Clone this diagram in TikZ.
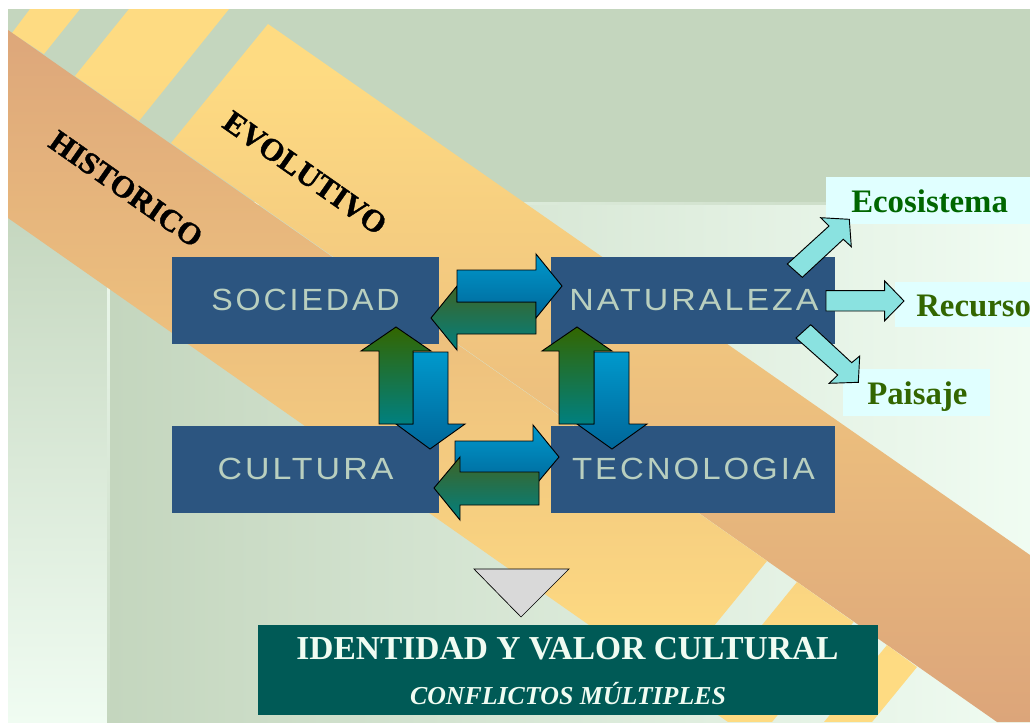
\documentclass[tikz,border=0pt]{standalone}
\usepackage{fontspec}
\setmainfont{Liberation Serif}
\newfontfamily\boxfont[LetterSpace=9]{Liberation Sans}
\newfontfamily\bandfont[BoldFeatures={FakeBold=1.2}]{Liberation Serif}
\definecolor{bgdark}{HTML}{C4D6BE}
\definecolor{bglight}{HTML}{F0FCF2}
\definecolor{ochre}{HTML}{FEDB82}
\definecolor{tan}{HTML}{DCA57A}
\definecolor{boxblue}{HTML}{2C5580}
\definecolor{boxtext}{HTML}{B9CFBF}
\definecolor{teal}{HTML}{005A56}
\definecolor{cyanbox}{HTML}{E0FFFF}
\definecolor{cyanarrow}{HTML}{8AE2E0}
\definecolor{bluetop}{HTML}{0099CC}
\definecolor{bluebot}{HTML}{006699}
\definecolor{greentop}{HTML}{336600}
\definecolor{greenbot}{HTML}{008080}
\definecolor{greenhtop}{HTML}{3F6425}
\definecolor{ecogreen}{HTML}{006600}
\tikzset{
  mainbox/.style={fill=boxblue,text=boxtext,inner sep=0pt,font=\boxfont\fontsize{23}{27}\selectfont},
  bluearrow/.style={draw=black,line width=0.7pt,top color=bluetop,bottom color=bluebot},
  greenarrow/.style={draw=black,line width=0.7pt,top color=greentop,bottom color=greenbot},
  greenharrow/.style={draw=black,line width=0.7pt,top color=greenhtop,bottom color=greenbot},
  cyanarr/.style={draw=black,line width=0.7pt,fill=cyanarrow},
  lab/.style={font=\bfseries\fontsize{24.6}{28}\selectfont,inner sep=0pt,anchor=base west},
  band/.style={text=black,inner sep=0pt,rotate=-35},
}
\begin{document}
\begin{tikzpicture}[x=0.75pt,y=-0.75pt]
\useasboundingbox (0,0) rectangle (1030,722);
% background
\fill[white] (0,0) rectangle (1030,722);
\fill[bgdark] (8,9) rectangle (1030,202);
\shade[top color=bgdark,bottom color=bglight] (8,202) rectangle (107,722);
\shade[left color=bglight,right color=bgdark] (107,202) rectangle (1030,205);
\shade[top color=bglight,bottom color=bgdark] (107,205) rectangle (110,722);
\shade[left color=bgdark,right color=bglight] (110,205) rectangle (1030,722);
% upper band with its stripes
\begin{scope}
\clip (12,33) -- (30,9) -- (80,9) -- (44,54) -- cycle
      (75,76) -- (129,9) -- (229,9) -- (139,121) -- cycle
      (171,143) -- (268,24) -- (1030,555) -- (1030,722) -- (997,722) -- cycle;
\shade[top color=ochre,bottom color=tan] (8,70) rectangle (1030,722);
\fill[ochre] (8,9) rectangle (1030,70);
\end{scope}
% lower band with its stripes
\begin{scope}
\clip (8,30) -- (767,561) -- (669,681) -- (8,218) -- cycle
      (797,582) -- (853.6,622) -- (772,722) -- (728,722) -- (699.5,702) -- cycle
      (887,645) -- (917,667) -- (872,722) -- (824,722) -- cycle;
\shade[top color=tan,bottom color=ochre] (8,9) rectangle (1030,660);
\fill[ochre] (8,660) rectangle (1030,722);
\end{scope}
% band labels
\node[band,font=\bandfont\bfseries\fontsize{23.3}{28}\selectfont] (hist) at (126,189) {HISTORICO};
\node[band,font=\bandfont\bfseries\fontsize{23.6}{28}\selectfont] (evol) at (305,173) {EVOLUTIVO};
% right labels
\fill[cyanbox] (826,177) rectangle (1030,224);
\fill[cyanbox] (895,282) rectangle (1030,327);
\fill[cyanbox] (843,369) rectangle (990,416);
\node[lab,text=ecogreen] (eco) at (851,212) {Ecosistema};
\node[lab,text=greentop] (rec) at (916,316) {Recurso};
\node[lab,text=greentop] (pai) at (867,404) {Paisaje};
% main boxes
\node[mainbox,minimum width=267*0.75pt,minimum height=87*0.75pt] (soc) at (305.5,300.5) {};
\node[mainbox,minimum width=267*0.75pt,minimum height=87*0.75pt] (cul) at (305.5,469.5) {};
\node[mainbox,minimum width=284*0.75pt,minimum height=87*0.75pt] (nat) at (693,300.5) {};
\node[mainbox,minimum width=284*0.75pt,minimum height=87*0.75pt] (tec) at (693,469.5) {};
\node[mainbox,fill=none,anchor=base] (soct) at (305.5,310) {\scalebox{1.05}[1]{SOCIEDAD}};
\node[mainbox,fill=none,anchor=base] (cult) at (305.5,479.5) {\scalebox{1.106}[1]{CULTURA}};
\node[mainbox,fill=none,anchor=base] (natt) at (694,310) {\scalebox{1.106}[1]{NATURALEZA}};
\node[mainbox,fill=none,anchor=base] (tect) at (693.5,479.5) {\scalebox{1.075}[1]{TECNOLOGIA}};
% top pair
\path[greenharrow] (431,318) -- (457,286) -- (457,302) -- (536,302) -- (536,334) -- (457,334) -- (457,350) -- cycle;
\path[bluearrow] (457,270) -- (536,270) -- (536,254) -- (562,286) -- (536,318) -- (536,302) -- (457,302) -- cycle;
% bottom pair
\path[bluearrow] (455,441) -- (533,441) -- (533,425) -- (559,457) -- (533,488) -- (533,473) -- (455,473) -- cycle;
\path[greenharrow] (434,488) -- (460,457) -- (460,472) -- (539,472) -- (539,505) -- (460,505) -- (460,520) -- cycle;
% left pair
\path[bluearrow] (413,352) -- (448,352) -- (448,424) -- (465,424) -- (430,449) -- (396,424) -- (413,424) -- cycle;
\path[greenarrow] (396,327) -- (431,351) -- (413,351) -- (413,424) -- (379,424) -- (379,351) -- (361,351) -- cycle;
% right pair
\path[bluearrow] (594,352) -- (629,352) -- (629,424) -- (647,424) -- (612,449) -- (577,424) -- (594,424) -- cycle;
\path[greenarrow] (577,327) -- (612,351) -- (594,351) -- (594,424) -- (559,424) -- (559,351) -- (542,351) -- cycle;
% cyan arrows
\path[cyanarr] (787.3,264) -- (802.3,277.3) -- (843.3,239.3) -- (851.3,246.7) -- (849.3,219.3) -- (820.7,217.7) -- (829,226) -- cycle;
\path[cyanarr] (826,290.7) -- (884.7,290.7) -- (884.7,281) -- (904,301) -- (884.7,320.7) -- (884.7,311) -- (826,311) -- cycle;
\path[cyanarr] (810.7,324.7) -- (851.7,362.7) -- (859.7,356) -- (858.3,382.3) -- (829.3,383.3) -- (837.7,375) -- (796,338) -- cycle;
% triangle
\path[draw=black,line width=0.5pt,fill=black!15] (474,569) -- (569,569) -- (521,617) -- cycle;
% bottom box
\node[fill=teal,minimum width=620*0.75pt,minimum height=90*0.75pt,inner sep=0pt] (idb) at (568,670) {};
\node[text=bglight,inner sep=0pt,anchor=base,font=\bfseries\fontsize{25.1}{28}\selectfont] (idt) at (567.5,659) {IDENTIDAD Y VALOR CULTURAL};
\node[text=bglight,inner sep=0pt,anchor=base,font=\bfseries\itshape\fontsize{19.4}{22}\selectfont] (con) at (568,704) {CONFLICTOS MÚLTIPLES};
\end{tikzpicture}
\end{document}
